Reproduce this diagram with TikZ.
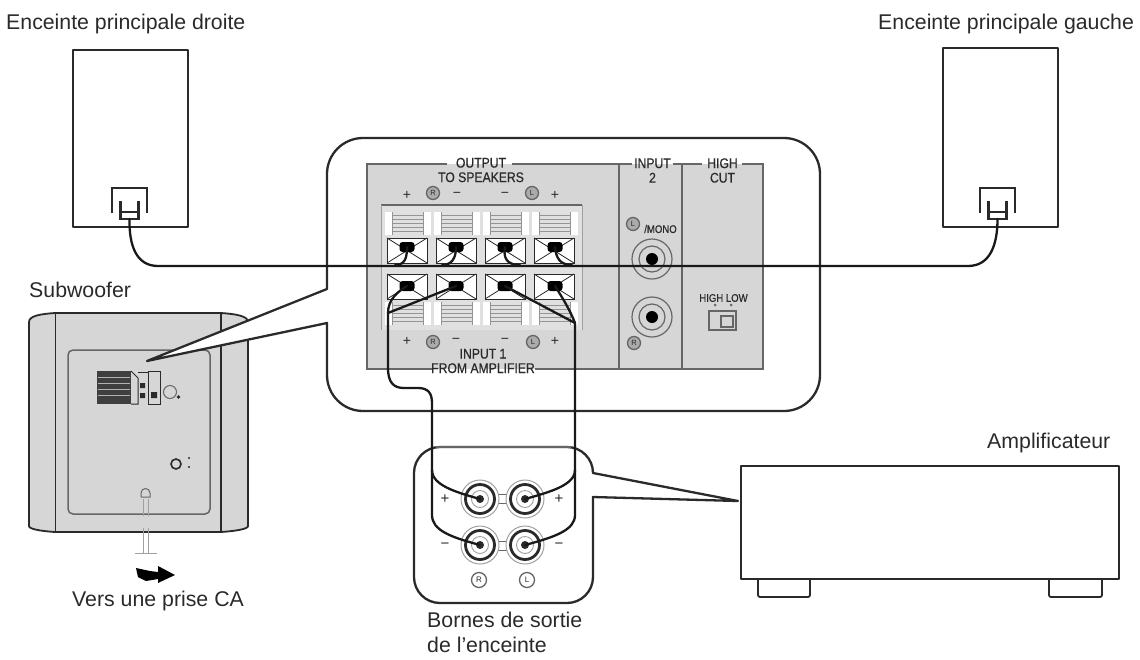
\documentclass[tikz,border=0pt]{standalone}
\usepackage{fontspec}
\setmainfont{Liberation Sans}
\newfontfamily\narrowfont[FakeStretch=0.87,FakeBold=0.6]{Liberation Sans}
\usetikzlibrary{shapes.geometric}
\definecolor{panelgray}{HTML}{D6D6D6}
\definecolor{ink}{HTML}{2A2A2A}
\definecolor{midgray}{HTML}{666666}
\definecolor{lightline}{HTML}{A0A0A0}
\tikzset{
  lbl/.style={anchor=west,inner sep=0pt,text=ink,font=\fontsize{21.3}{25}\selectfont,align=left},
  plab/.style={inner sep=0pt,text=ink,font=\narrowfont\fontsize{14}{14.5}\selectfont,align=center},
  smallab/.style={inner sep=0pt,text=ink,font=\narrowfont\fontsize{11}{12}\selectfont},
  outline/.style={draw=ink,line width=2.3pt,line join=round},
  thin outline/.style={draw=ink,line width=1.4pt},
  panelline/.style={draw=midgray,line width=1.4pt},
  wire/.style={draw=black!90,line width=2.3pt,line cap=round},
  knob/.style={draw=none,fill=black,rounded corners=3pt,minimum width=15pt,minimum height=10pt,inner sep=0pt},
  spkbox/.style={outline,fill=white,inner sep=0pt,line width=2pt},
  circ/.style={circle,draw=midgray,line width=1.3pt,fill=panelgray!80!black,minimum size=13pt,inner sep=0pt},
  sign/.style={inner sep=0pt,text=ink,font=\fontsize{14}{14}\selectfont},
  rca/.style={circle,draw=lightline,line width=1pt,fill=white,inner sep=0pt},
}
\begin{document}
\begin{tikzpicture}[x=1pt,y=-1pt]
\useasboundingbox (0,0) rectangle (1140,659);

% titles
\node[lbl] (tR) at (6,24) {Enceinte principale droite};
\node[lbl] (tL) at (878,24) {Enceinte principale gauche};
\node[lbl] (tS) at (29,290) {Subwoofer};
\node[lbl] (tA) at (987,443) {Amplificateur};
\node[lbl] (tC) at (72,601) {Vers une prise CA};
\node[lbl,anchor=north west] (tB) at (427,611.5) {Bornes de sortie\\de l’enceinte};

% speakers
\node[spkbox,minimum width=115pt,minimum height=177pt] (spkR) at (130.5,138.5) {};
\node[spkbox,minimum width=115pt,minimum height=179pt] (spkL) at (1000.5,137.5) {};
\foreach \cx/\nm in {129.5/plugR,997.5/plugL}{
  \draw[draw=ink,line width=2.2pt] (\cx-17.5,213) -- (\cx-17.5,188) -- (\cx+17.5,188) -- (\cx+17.5,213);
  \draw[draw=ink,line width=2.2pt] (\cx-9,201) -- (\cx-9,219) -- (\cx+9,219) -- (\cx+9,201);
  \draw[draw=ink,line width=1.2pt] (\cx-9,212) -- (\cx+9,212);
  \coordinate (\nm) at (\cx,219);
}

% subwoofer
\draw[outline,fill=panelgray,line width=1.8pt] (29,322) .. controls (29,316) and (40,314) .. (55,313) -- (221,313) .. controls (236,314) and (248,316) .. (248,322) -- (248,526) .. controls (248,529) and (236,531) .. (221,532) -- (55,532) .. controls (40,531) and (29,529) .. (29,526) -- cycle;
\draw[draw=ink,line width=1.4pt] (55.5,313) -- (55.5,532) (221,313) -- (221,532);
\draw[panelline,line width=1.5pt,rounded corners=5pt] (68,350) rectangle (210,514);
% rear details of the subwoofer
\fill[ink!90] (97,371) rectangle (131,404);
\foreach \y in {377,383,389,395}{\draw[white!70!black,line width=.7pt] (98,\y) -- (130,\y);}
\draw[ink,line width=1pt] (131,371) -- (138,378) -- (138,404) -- (131,404);
\draw[ink,line width=1pt] (138,372) -- (148,372) (148,371) rectangle (160,404);
\fill[ink] (140,383) rectangle (145,388) (140,393) rectangle (145,398) (151,392) rectangle (157,398);
\draw[midgray,line width=1pt] (170,392) circle (6.5);
\fill[ink] (178.5,397) circle (1.8);
\draw[ink,line width=1.6pt] (176,464) circle (5);
\fill[ink] (189,458) circle (1.2) (189,467) circle (1.2);
\draw[midgray,line width=1pt] (141,497) -- (141,493) arc[start angle=180,end angle=360,radius=4.5] -- (150,497) -- (141,497);
% power cord
\draw[lightline,line width=1pt] (143,499) -- (143,516) (148,499) -- (148,516) (143,528) -- (143,553) (148,528) -- (148,553);
\draw[lightline,line width=1.2pt] (135,553.5) -- (157,553.5);
\fill[black] (136,568) -- (150,571) -- (158,572) -- (158,566) -- (175,575) -- (158,583) -- (158,579) -- (146,581) -- (138,577) -- cycle;

% main callout, its wedge reaching the subwoofer
\path[outline,fill=white] (147,361) -- (327,289) [rounded corners=36pt] -- (327,138) -- (820,138) -- (820,411) -- (327,411) [sharp corners] -- (327,323) -- cycle;

% grey panel
\fill[panelgray] (367,164) rectangle (763,369);
\draw[panelline] (447,164) -- (367,164) -- (367,369) -- (432,369);
\draw[panelline] (512,164) -- (632,164) (673,164) -- (702,164) (742,164) -- (763,164) -- (763,369) -- (535,369);
\draw[panelline] (619,164) -- (619,369) (682,164) -- (682,369);

% terminal block
\fill[white!88!black] (381,205) rectangle (582,330);
\draw[midgray,line width=1.2pt] (381,205) -- (582,205);
\draw[lightline,line width=1pt] (381,330) -- (381,205) (582,205) -- (582,330);
\foreach \x in {385,434,483,532}{
  \foreach \yy in {212,302}{
    \fill[white] (\x,\yy) rectangle (\x+46,\yy+23);
    \fill[white!88!black] (\x+7,\yy) rectangle (\x+38,\yy+23);
    \foreach \k in {1,2,3,4,5}{
      \draw[midgray!70,line width=.9pt] (\x+7,\yy+3.8*\k) -- (\x+38,\yy+3.8*\k);
    }
    \draw[midgray!70,line width=.9pt] (\x+7,\yy) -- (\x+7,\yy+23) (\x+38,\yy) -- (\x+38,\yy+23);
  }
  \foreach \yy in {238,274}{
    \draw[ink,line width=1pt,fill=white] (\x+2,\yy) rectangle (\x+42,\yy+25);
    \draw[ink,line width=.8pt] (\x+2,\yy) -- (\x+42,\yy+25) (\x+42,\yy) -- (\x+2,\yy+25);
  }
}

% panel texts
\node[plab] (pOut) at (481,170) {OUTPUT\\TO SPEAKERS};
\node[plab] (pIn2) at (652.5,170.5) {INPUT\\2};
\node[plab] (pCut) at (722.5,170.5) {HIGH\\CUT};
\node[plab] (pIn1) at (483,361) {INPUT 1\\FROM AMPLIFIER};
\node[smallab] (pMono) at (660.5,229) {/MONO};
\node[smallab] (pHL) at (723.5,298) {HIGH LOW};
\foreach \x/\y/\s in {407/195/+,457/195/−,505/195/−,555/195/+,407/341/+,456/341/−,505/341/−,555/341/+}{\node[sign] at (\x,\y) {\s};}
\foreach \x/\y/\s in {433/193/R,532/193/L,433/342/R,533/342/L,633/224/L,634/343/R}{\node[circ,font=\fontsize{7.5}{7.5}\selectfont,text=ink] at (\x,\y) {\s};}

% input 2 jacks
\foreach \yy/\nm in {259/jk1,317/jk2}{
  \draw[midgray,line width=1.2pt] (652,\yy) circle (20);
  \draw[midgray,line width=1.2pt] (652,\yy) circle (13);
  \fill[black] (652,\yy) circle (6);
}
% high cut switch
\fill[midgray] (715,305) circle (1.5) (731,305) circle (1.5);
\draw[midgray,line width=1.3pt] (709,311) rectangle (736,330);
\draw[midgray,line width=1.3pt] (721,316) rectangle (733,327);

% knobs of the speaker terminals
\foreach \n/\x in {1/407,2/456,3/505,4/555}{
  \node[knob] (t\n) at (\x,247) {};
  \node[knob] (b\n) at (\x,286) {};
}
% small callout with the amplifier's terminals
\path[outline,fill=white] (738,501) -- (593,473) [rounded corners=26pt] -- (593,447) -- (414,447) -- (414,603) -- (593,603) [sharp corners] -- (593,497) -- cycle;
\draw[midgray,line width=2.4pt] (436,447) -- (571,447);
% amp
\node[spkbox,line width=2.2pt,minimum width=378pt,minimum height=113pt] (amp) at (930,522.5) {};
\draw[outline,line width=1.8pt,rounded corners=2pt] (758,579) -- (758,597) -- (810,597) -- (810,579);
\draw[outline,line width=1.8pt,rounded corners=2pt] (1049,579) -- (1049,597) -- (1102,597) -- (1102,579);

% terminal links
\draw[midgray,line width=1pt] (496,494) -- (509,494) (496,503) -- (509,503) (496,541) -- (509,541) (496,550) -- (509,550);
\foreach \nm/\x/\y in {pR/480/499,pL/525/499,mR/480/545,mL/525/545}{
  \node[rca,minimum size=38pt] (\nm) at (\x,\y) {};
  \draw[ink,line width=2.8pt] (\x,\y) circle (14.5);
  \draw[lightline,line width=.9pt] (\x,\y) circle (8.5);
  \fill[ink] (\x,\y) circle (4);
}
\foreach \x/\y/\s in {445/499/+,559/499/+,445/546/−,559/546/−}{\node[sign,font=\fontsize{15}{15}\selectfont] at (\x,\y) {\s};}
\node[circ,fill=white,minimum size=15pt,font=\fontsize{8}{8}\selectfont,text=ink] (cR) at (479,580) {R};
\node[circ,fill=white,minimum size=15pt,font=\fontsize{8}{8}\selectfont,text=ink] (cL) at (527,580) {L};

% wiring
\coordinate (jL) at (388,313);
\coordinate (jR) at (575,323);
\draw[wire] (plugR) .. controls (129,245) and (136,266) .. (158,266) -- (968,266) .. controls (990,266) and (997.5,245) .. (plugL);
\draw[wire] (t1.center) .. controls (407,258) and (405,265) .. (395,265);
\draw[wire] (t2.center) .. controls (456,258) and (452,265) .. (442,265);
\draw[wire] (t3.center) .. controls (503,258) and (507,265) .. (520,265);
\draw[wire] (t4.center) .. controls (556,258) and (560,265) .. (572,265);
\draw[wire] (b1.center) .. controls (397,292) and (388,300) .. (jL);
\draw[wire] (b2.center) -- (jL);
\draw[wire] (b3.center) -- (jR);
\draw[wire] (b4.center) .. controls (562,297) and (570,310) .. (jR);
\draw[wire] (jL) -- (388,368) .. controls (388,383) and (394,388) .. (404,388) -- (418,388) .. controls (428,388) and (432,393) .. (432,403) -- (432,515) .. controls (432,530) and (450,537) .. (mR.center);
\draw[wire] (432,470) .. controls (432,485) and (455,492) .. (pR.center);
\draw[wire] (jR) -- (575,515) .. controls (575,530) and (555,537) .. (mL.center);
\draw[wire] (575,470) .. controls (575,485) and (550,492) .. (pL.center);
\end{tikzpicture}
\end{document}
